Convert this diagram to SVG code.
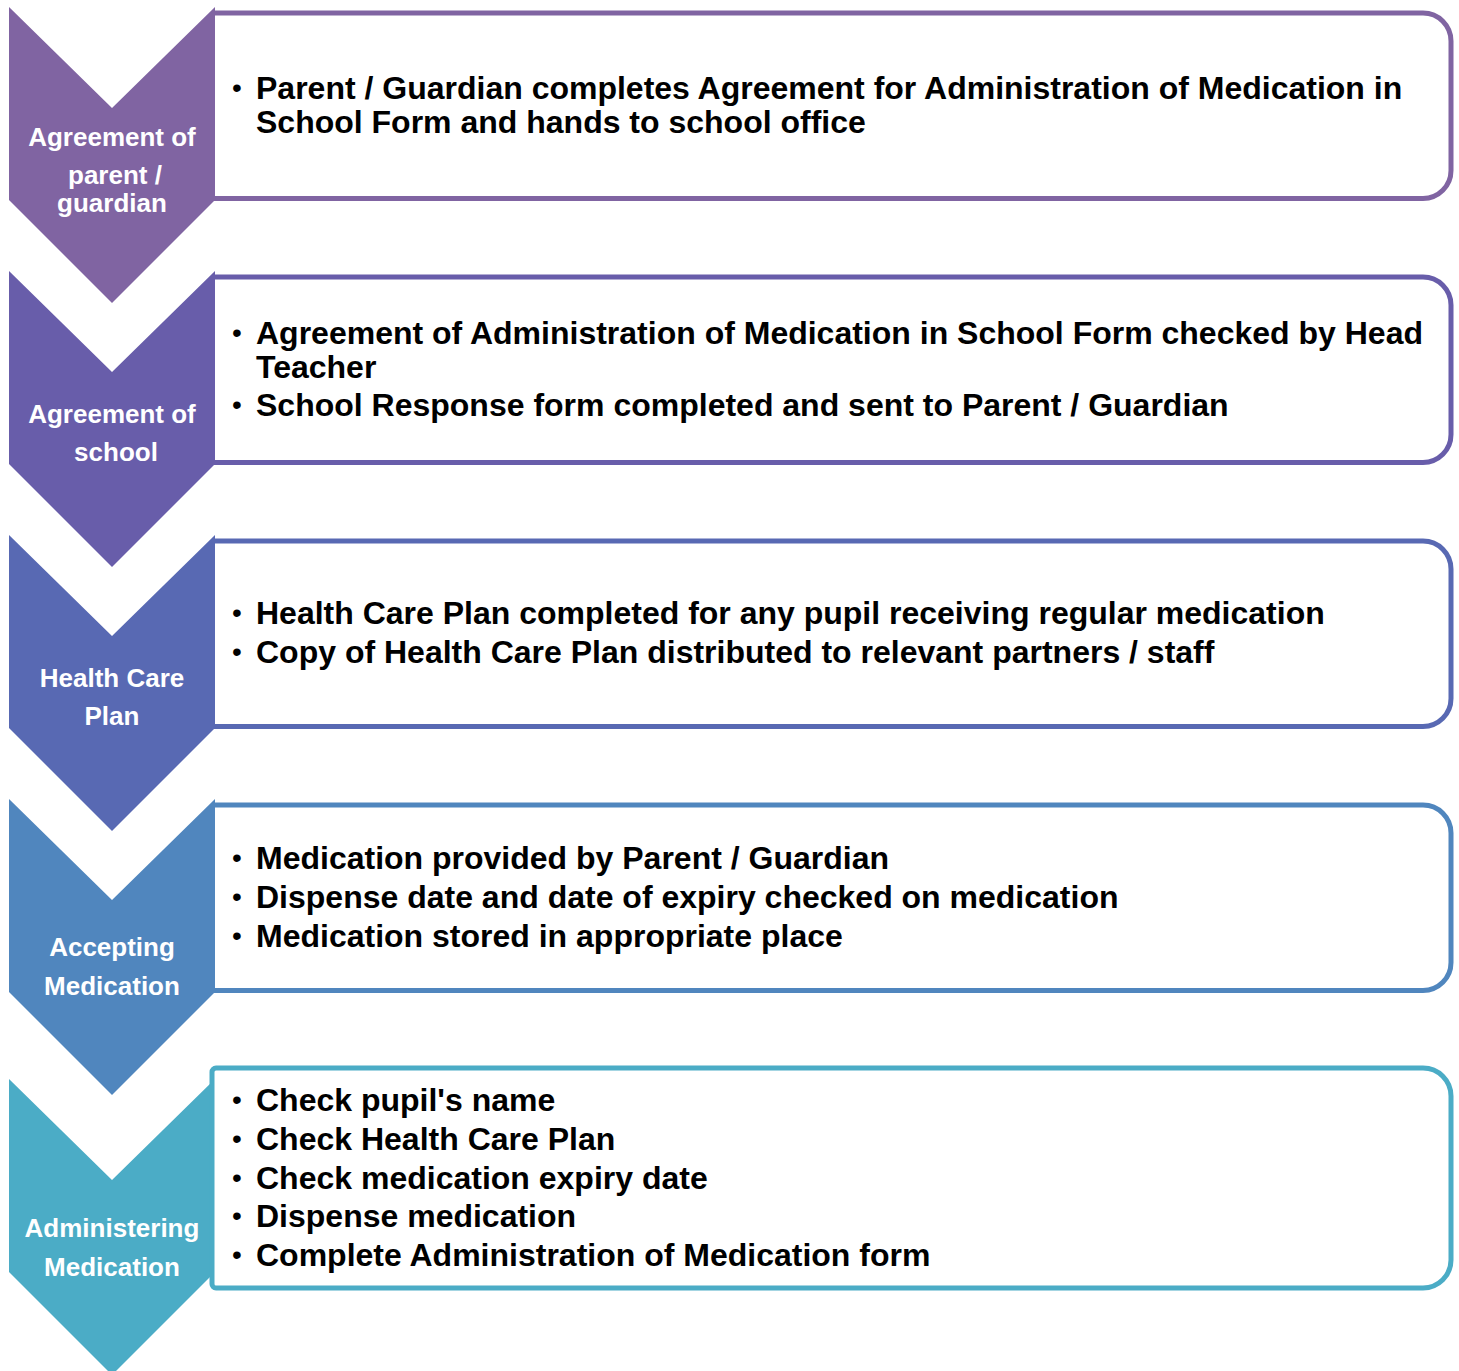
<svg xmlns="http://www.w3.org/2000/svg" width="1459" height="1371" viewBox="0 0 1459 1371">
<style>
.box{fill:#FFFFFF;stroke-width:5}
.lbl{font-family:"Liberation Sans",Arial,sans-serif;font-weight:bold;font-size:26px;fill:#FFFFFF;text-anchor:middle}
.txt{font-family:"Liberation Sans",Arial,sans-serif;font-weight:bold;font-size:32px;fill:#000000}
.bul{font-family:"Liberation Sans",Arial,sans-serif;font-size:28px;fill:#000000;text-anchor:middle}
</style>
<rect width="1459" height="1371" fill="#FFFFFF"/>
<g id="connectors"></g>
<g id="step1">
<path class="box" stroke="#8064A2" d="M214,13 H1423 A28,28 0 0 1 1451,41 V170.5 A28,28 0 0 1 1423,198.5 H214"/>
<path fill="#8064A2" d="M9,7 L112,108 L215,7 L215,200 L112,303 L9,200 Z"/>
<text class="lbl" x="112" y="146">Agreement of</text>
<text class="lbl" x="115" y="184">parent /</text>
<text class="lbl" x="112" y="212">guardian</text>
<text class="bul" x="237" y="97">•</text>
<text class="txt" x="256" y="99">Parent / Guardian completes Agreement for Administration of Medication in</text>
<text class="txt" x="256" y="133">School Form and hands to school office</text>
</g>
<g id="step2">
<path class="box" stroke="#685DAA" d="M214,277 H1423 A28,28 0 0 1 1451,305 V434.5 A28,28 0 0 1 1423,462.5 H214"/>
<path fill="#685DAA" d="M9,271 L112,372 L215,271 L215,464 L112,567 L9,464 Z"/>
<text class="lbl" x="112" y="423">Agreement of</text>
<text class="lbl" x="116" y="461">school</text>
<text class="bul" x="237" y="342">•</text>
<text class="txt" x="256" y="344">Agreement of Administration of Medication in School Form checked by Head</text>
<text class="txt" x="256" y="378">Teacher</text>
<text class="bul" x="237" y="414">•</text>
<text class="txt" x="256" y="416">School Response form completed and sent to Parent / Guardian</text>
</g>
<g id="step3">
<path class="box" stroke="#5869B3" d="M214,541 H1423 A28,28 0 0 1 1451,569 V698.5 A28,28 0 0 1 1423,726.5 H214"/>
<path fill="#5869B3" d="M9,535 L112,636 L215,535 L215,728 L112,831 L9,728 Z"/>
<text class="lbl" x="112" y="687">Health Care</text>
<text class="lbl" x="112" y="725">Plan</text>
<text class="bul" x="237" y="622">•</text>
<text class="txt" x="256" y="624">Health Care Plan completed for any pupil receiving regular medication</text>
<text class="bul" x="237" y="661">•</text>
<text class="txt" x="256" y="663">Copy of Health Care Plan distributed to relevant partners / staff</text>
</g>
<g id="step4">
<path class="box" stroke="#5086BE" d="M214,805 H1423 A28,28 0 0 1 1451,833 V962.5 A28,28 0 0 1 1423,990.5 H214"/>
<path fill="#5086BE" d="M9,799 L112,900 L215,799 L215,992 L112,1095 L9,992 Z"/>
<text class="lbl" x="112" y="956">Accepting</text>
<text class="lbl" x="112" y="995">Medication</text>
<text class="bul" x="237" y="867">•</text>
<text class="txt" x="256" y="869">Medication provided by Parent / Guardian</text>
<text class="bul" x="237" y="906">•</text>
<text class="txt" x="256" y="908">Dispense date and date of expiry checked on medication</text>
<text class="bul" x="237" y="945">•</text>
<text class="txt" x="256" y="947">Medication stored in appropriate place</text>
</g>
<g id="step5">
<path fill="#4BACC6" d="M9,1079 L112,1180 L215,1079 L215,1272 L112,1375 L9,1272 Z"/>
<path class="box" stroke="#4BACC6" d="M216,1068 H1423 A28,28 0 0 1 1451,1096 V1260 A28,28 0 0 1 1423,1288 H216 A4,4 0 0 1 212,1284 V1072 A4,4 0 0 1 216,1068 Z"/>
<text class="lbl" x="112" y="1237">Administering</text>
<text class="lbl" x="112" y="1276">Medication</text>
<text class="bul" x="237" y="1109">•</text>
<text class="txt" x="256" y="1111">Check pupil's name</text>
<text class="bul" x="237" y="1148">•</text>
<text class="txt" x="256" y="1150">Check Health Care Plan</text>
<text class="bul" x="237" y="1187">•</text>
<text class="txt" x="256" y="1189">Check medication expiry date</text>
<text class="bul" x="237" y="1225">•</text>
<text class="txt" x="256" y="1227">Dispense medication</text>
<text class="bul" x="237" y="1264">•</text>
<text class="txt" x="256" y="1266">Complete Administration of Medication form</text>
</g>
</svg>
